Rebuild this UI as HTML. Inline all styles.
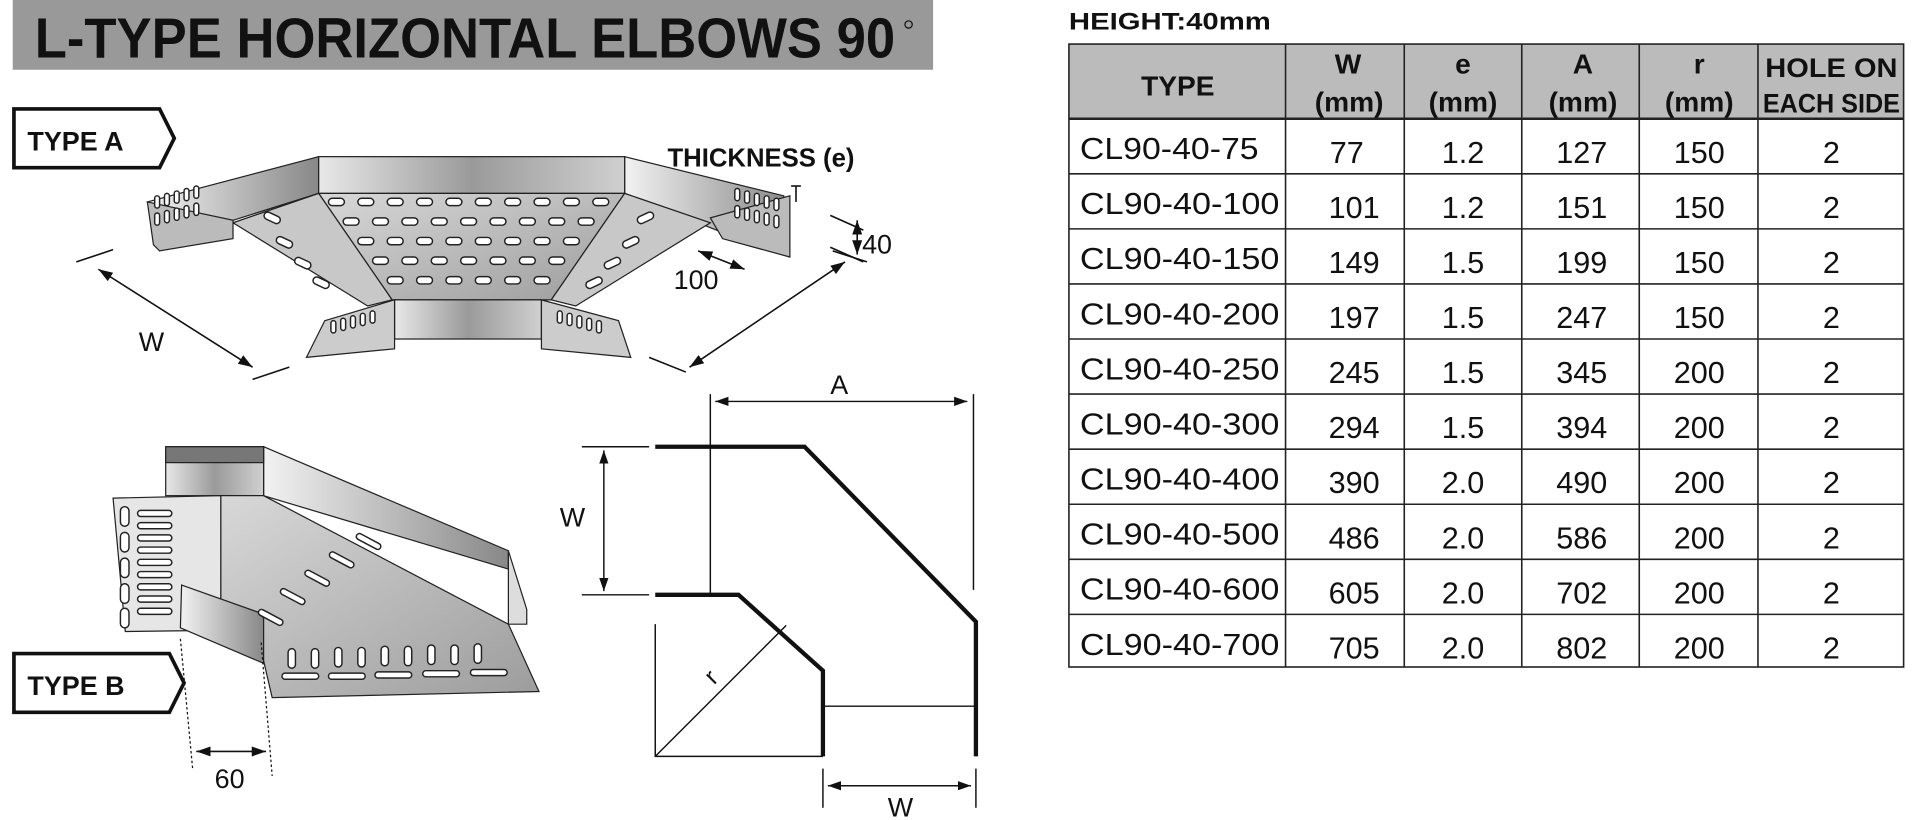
<!DOCTYPE html>
<html><head><meta charset="utf-8"><style>
html,body{margin:0;padding:0;background:#fff;width:1920px;height:820px;overflow:hidden}
svg{display:block}
text{font-family:"Liberation Sans",sans-serif;fill:#111}
</style></head><body>
<svg width="1920" height="820" viewBox="0 0 1568 670" xmlns="http://www.w3.org/2000/svg">
<defs>
<linearGradient id="m1" x1="0" x2="1" y1="0" y2="0"><stop offset="0" stop-color="#e8e8e8"/><stop offset="0.5" stop-color="#9a9a9a"/><stop offset="1" stop-color="#d0d0d0"/></linearGradient>
<linearGradient id="m2" x1="0" x2="1" y1="0" y2="0"><stop offset="0" stop-color="#f2f2f2"/><stop offset="1" stop-color="#888"/></linearGradient>
<linearGradient id="m3" x1="0" x2="1" y1="0" y2="1"><stop offset="0" stop-color="#d8d8d8"/><stop offset="1" stop-color="#9c9c9c"/></linearGradient>
<marker id="ar" viewBox="0 0 10 10" refX="10" refY="5" markerWidth="9" markerHeight="9" orient="auto-start-reverse"><path d="M0,1.5 L10,5 L0,8.5 Z" fill="#111"/></marker>
</defs>

<!-- title -->
<rect x="10" y="0" width="752" height="57" fill="#999"/>
<text x="28" y="47" font-size="46" font-weight="bold" textLength="703" lengthAdjust="spacingAndGlyphs">L-TYPE HORIZONTAL ELBOWS 90</text>
<circle cx="742" cy="20" r="3" fill="none" stroke="#111" stroke-width="1"/>

<!-- tags -->
<path d="M11,89 H130 L142,113 L130,137 H11 Z" fill="#fff" stroke="#111" stroke-width="3"/>
<text x="22" y="123" font-size="22" font-weight="bold">TYPE A</text>
<path d="M11,534 H138 L150,558 L138,582 H11 Z" fill="#fff" stroke="#111" stroke-width="3"/>
<text x="22" y="568" font-size="22" font-weight="bold">TYPE B</text>
<text x="545" y="136" font-size="21" font-weight="bold">THICKNESS (e)</text>

<!-- TYPE A drawing -->
<g stroke="#222" stroke-width="1">
<polygon points="120,165 260,128 260,158 190,180 150,195 130,205" fill="url(#m2)"/>
<polygon points="510,128 640,160 645,208 590,190 510,158" fill="url(#m2)"/>
<rect x="260" y="128" width="250" height="30" fill="url(#m1)"/>
<polygon points="260,158 510,158 450,245 320,245" fill="url(#m3)"/>
<polygon points="190,182 260,158 320,245 300,250" fill="#c8c8c8"/>
<polygon points="510,158 580,182 470,250 450,245" fill="#c8c8c8"/>
<polygon points="120,165 190,180 190,195 130,205 125,200" fill="#bbb"/>
<polygon points="580,178 645,160 645,210 590,195" fill="#bbb"/>
<rect x="322" y="245" width="120" height="32" fill="url(#m1)"/>
<polygon points="265,262 322,245 322,285 250,292" fill="#ccc"/>
<polygon points="442,245 505,262 515,292 442,285" fill="#ccc"/>
</g>
<g fill="#fff" stroke="#222" stroke-width="1.2">
<rect x="268" y="162" width="13" height="6" rx="3"/><rect x="292" y="162" width="13" height="6" rx="3"/><rect x="316" y="162" width="13" height="6" rx="3"/><rect x="340" y="162" width="13" height="6" rx="3"/><rect x="364" y="162" width="13" height="6" rx="3"/><rect x="388" y="162" width="13" height="6" rx="3"/><rect x="412" y="162" width="13" height="6" rx="3"/><rect x="436" y="162" width="13" height="6" rx="3"/><rect x="460" y="162" width="13" height="6" rx="3"/><rect x="484" y="162" width="13" height="6" rx="3"/>
<rect x="280" y="178" width="13" height="6" rx="3"/><rect x="304" y="178" width="13" height="6" rx="3"/><rect x="328" y="178" width="13" height="6" rx="3"/><rect x="352" y="178" width="13" height="6" rx="3"/><rect x="376" y="178" width="13" height="6" rx="3"/><rect x="400" y="178" width="13" height="6" rx="3"/><rect x="424" y="178" width="13" height="6" rx="3"/><rect x="448" y="178" width="13" height="6" rx="3"/><rect x="472" y="178" width="13" height="6" rx="3"/>
<rect x="292" y="194" width="13" height="6" rx="3"/><rect x="316" y="194" width="13" height="6" rx="3"/><rect x="340" y="194" width="13" height="6" rx="3"/><rect x="364" y="194" width="13" height="6" rx="3"/><rect x="388" y="194" width="13" height="6" rx="3"/><rect x="412" y="194" width="13" height="6" rx="3"/><rect x="436" y="194" width="13" height="6" rx="3"/><rect x="460" y="194" width="13" height="6" rx="3"/>
<rect x="304" y="210" width="13" height="6" rx="3"/><rect x="328" y="210" width="13" height="6" rx="3"/><rect x="352" y="210" width="13" height="6" rx="3"/><rect x="376" y="210" width="13" height="6" rx="3"/><rect x="400" y="210" width="13" height="6" rx="3"/><rect x="424" y="210" width="13" height="6" rx="3"/><rect x="448" y="210" width="13" height="6" rx="3"/>
<rect x="316" y="226" width="13" height="6" rx="3"/><rect x="340" y="226" width="13" height="6" rx="3"/><rect x="364" y="226" width="13" height="6" rx="3"/><rect x="388" y="226" width="13" height="6" rx="3"/><rect x="412" y="226" width="13" height="6" rx="3"/><rect x="436" y="226" width="13" height="6" rx="3"/>
<rect x="215" y="175" width="14" height="6" rx="3" transform="rotate(25 222 178)"/><rect x="225" y="195" width="14" height="6" rx="3" transform="rotate(25 232 198)"/><rect x="240" y="212" width="14" height="6" rx="3" transform="rotate(25 247 215)"/><rect x="255" y="228" width="14" height="6" rx="3" transform="rotate(25 262 231)"/>
<rect x="520" y="175" width="14" height="6" rx="3" transform="rotate(-25 527 178)"/><rect x="508" y="195" width="14" height="6" rx="3" transform="rotate(-25 515 198)"/><rect x="493" y="212" width="14" height="6" rx="3" transform="rotate(-25 500 215)"/><rect x="478" y="228" width="14" height="6" rx="3" transform="rotate(-25 485 231)"/>
<rect x="126" y="160" width="4" height="10" rx="2"/><rect x="134" y="158" width="4" height="10" rx="2"/><rect x="142" y="156" width="4" height="10" rx="2"/><rect x="150" y="154" width="4" height="10" rx="2"/><rect x="158" y="152" width="4" height="10" rx="2"/>
<rect x="126" y="174" width="4" height="10" rx="2"/><rect x="134" y="172" width="4" height="10" rx="2"/><rect x="142" y="170" width="4" height="10" rx="2"/><rect x="150" y="168" width="4" height="10" rx="2"/><rect x="158" y="166" width="4" height="10" rx="2"/>
<rect x="600" y="154" width="4" height="10" rx="2"/><rect x="608" y="156" width="4" height="10" rx="2"/><rect x="616" y="158" width="4" height="10" rx="2"/><rect x="624" y="160" width="4" height="10" rx="2"/><rect x="632" y="162" width="4" height="10" rx="2"/>
<rect x="600" y="168" width="4" height="10" rx="2"/><rect x="608" y="170" width="4" height="10" rx="2"/><rect x="616" y="172" width="4" height="10" rx="2"/><rect x="624" y="174" width="4" height="10" rx="2"/><rect x="632" y="176" width="4" height="10" rx="2"/>
<rect x="270" y="262" width="4" height="10" rx="2"/><rect x="278" y="260" width="4" height="10" rx="2"/><rect x="286" y="258" width="4" height="10" rx="2"/><rect x="294" y="256" width="4" height="10" rx="2"/><rect x="302" y="254" width="4" height="10" rx="2"/>
<rect x="455" y="254" width="4" height="10" rx="2"/><rect x="463" y="256" width="4" height="10" rx="2"/><rect x="471" y="258" width="4" height="10" rx="2"/><rect x="479" y="260" width="4" height="10" rx="2"/><rect x="487" y="262" width="4" height="10" rx="2"/>
</g>
<!-- type A dims -->
<g stroke="#111" stroke-width="1.3" fill="none">
<line x1="80" y1="220" x2="206" y2="300" marker-start="url(#ar)" marker-end="url(#ar)"/>
<line x1="62" y1="214" x2="92" y2="204"/><line x1="206" y1="310" x2="236" y2="300"/>
<line x1="563" y1="300" x2="690" y2="214" marker-start="url(#ar)" marker-end="url(#ar)"/>
<line x1="530" y1="292" x2="560" y2="304"/><line x1="680" y1="205" x2="708" y2="214"/>
<line x1="570" y1="205" x2="608" y2="220" marker-start="url(#ar)" marker-end="url(#ar)"/>
<line x1="700" y1="180" x2="700" y2="208" marker-start="url(#ar)" marker-end="url(#ar)"/>
<line x1="678" y1="176" x2="705" y2="188"/><line x1="678" y1="202" x2="705" y2="214"/>
<line x1="650" y1="152" x2="650" y2="165"/><line x1="646" y1="152" x2="654" y2="152"/>
</g>
<text x="113" y="287" font-size="22">W</text>
<text x="550" y="236" font-size="22">100</text>
<text x="704" y="207" font-size="22">40</text>

<!-- TYPE B drawing -->
<g stroke="#222" stroke-width="1">
<polygon points="215,365 415,450 415,465 215,405" fill="url(#m2)"/>
<polygon points="415,450 430,498 430,510 415,510" fill="#ddd"/>
<rect x="135" y="365" width="80" height="40" fill="url(#m1)"/>
<rect x="135" y="365" width="80" height="13" fill="#777"/>
<polygon points="180,405 215,405 415,510 440,565 222,570 215,540 180,515" fill="url(#m3)"/>
<polygon points="92,407 180,405 180,515 102,516" fill="#e6e6e6"/>
<polygon points="148,478 210,500 215,505 215,542 147,513" fill="url(#m2)"/>
</g>
<g fill="#fff" stroke="#222" stroke-width="1.2">
<rect x="98" y="414" width="7" height="16" rx="3.5"/><rect x="98" y="435" width="7" height="16" rx="3.5"/><rect x="98" y="456" width="7" height="16" rx="3.5"/><rect x="98" y="477" width="7" height="16" rx="3.5"/><rect x="98" y="497" width="7" height="16" rx="3.5"/>
<rect x="112" y="417" width="28" height="5" rx="2.5"/><rect x="112" y="427" width="28" height="5" rx="2.5"/><rect x="112" y="437" width="28" height="5" rx="2.5"/><rect x="112" y="447" width="28" height="5" rx="2.5"/><rect x="112" y="457" width="28" height="5" rx="2.5"/><rect x="112" y="467" width="28" height="5" rx="2.5"/><rect x="112" y="477" width="28" height="5" rx="2.5"/><rect x="112" y="487" width="28" height="5" rx="2.5"/><rect x="112" y="497" width="28" height="5" rx="2.5"/>
<rect x="230" y="550" width="30" height="5" rx="2.5"/><rect x="268" y="550" width="30" height="5" rx="2.5"/><rect x="306" y="549" width="30" height="5" rx="2.5"/><rect x="345" y="548" width="30" height="5" rx="2.5"/><rect x="384" y="547" width="30" height="5" rx="2.5"/>
<rect x="235" y="530" width="6" height="16" rx="3"/><rect x="254" y="530" width="6" height="16" rx="3"/><rect x="273" y="529" width="6" height="16" rx="3"/><rect x="292" y="529" width="6" height="16" rx="3"/><rect x="311" y="528" width="6" height="16" rx="3"/><rect x="330" y="528" width="6" height="16" rx="3"/><rect x="349" y="527" width="6" height="16" rx="3"/><rect x="368" y="527" width="6" height="16" rx="3"/><rect x="387" y="526" width="6" height="16" rx="3"/>
<rect x="210" y="502" width="22" height="5" rx="2.5" transform="rotate(28 221 504)"/><rect x="228" y="485" width="22" height="5" rx="2.5" transform="rotate(28 239 487)"/><rect x="248" y="470" width="22" height="5" rx="2.5" transform="rotate(28 259 472)"/><rect x="268" y="455" width="22" height="5" rx="2.5" transform="rotate(28 279 457)"/><rect x="290" y="440" width="22" height="5" rx="2.5" transform="rotate(28 301 442)"/>
</g>
<g stroke="#111" stroke-width="1" fill="none">
<line x1="147" y1="522" x2="157" y2="628" stroke-dasharray="2,2"/>
<line x1="213" y1="525" x2="222" y2="634" stroke-dasharray="2,2"/>
<line x1="160" y1="614" x2="217" y2="614" stroke-width="1.3" marker-start="url(#ar)" marker-end="url(#ar)"/>
</g>
<text x="175" y="644" font-size="22">60</text>

<!-- schematic -->
<g stroke="#111" fill="none">
<polyline points="535,365 657,365 797,508 797,618" stroke-width="3.5"/>
<polyline points="535,486 603,486 672,548 672,618" stroke-width="3.5"/>
<line x1="580" y1="322" x2="580" y2="486" stroke-width="1.2"/>
<line x1="795" y1="322" x2="795" y2="482" stroke-width="1.2"/>
<line x1="584" y1="328" x2="790" y2="328" stroke-width="1.2" marker-start="url(#ar)" marker-end="url(#ar)"/>
<line x1="475" y1="365" x2="530" y2="365" stroke-width="1.2"/>
<line x1="475" y1="486" x2="530" y2="486" stroke-width="1.2"/>
<line x1="493" y1="368" x2="493" y2="483" stroke-width="1.2" marker-start="url(#ar)" marker-end="url(#ar)"/>
<polyline points="535,510 535,618 672,618" stroke-width="1.2"/>
<line x1="535" y1="618" x2="642" y2="511" stroke-width="1.2"/>
<line x1="672" y1="577" x2="797" y2="577" stroke-width="1.2"/>
<line x1="672" y1="628" x2="672" y2="660" stroke-width="1.2"/>
<line x1="797" y1="628" x2="797" y2="660" stroke-width="1.2"/>
<line x1="676" y1="642" x2="793" y2="642" stroke-width="1.2" marker-start="url(#ar)" marker-end="url(#ar)"/>
</g>
<text x="678" y="322" font-size="22">A</text>
<text x="457" y="430" font-size="22">W</text>
<text x="725" y="667" font-size="22">W</text>
<text x="578" y="558" font-size="20" transform="rotate(-45 583 553)">r</text>

<!-- table -->
<text x="873" y="24" font-size="20" font-weight="bold" textLength="165" lengthAdjust="spacingAndGlyphs">HEIGHT:40mm</text>
<rect x="873" y="36" width="682" height="61" fill="#bbb"/>
<g stroke="#222" stroke-width="1.3" fill="none">
<rect x="873" y="36" width="682" height="509"/>
<line x1="1050" y1="36" x2="1050" y2="545"/><line x1="1147" y1="36" x2="1147" y2="545"/><line x1="1243" y1="36" x2="1243" y2="545"/><line x1="1339" y1="36" x2="1339" y2="545"/><line x1="1436" y1="36" x2="1436" y2="545"/>
<line x1="873" y1="97" x2="1555" y2="97" stroke-width="2"/>
<line x1="873" y1="142" x2="1555" y2="142"/><line x1="873" y1="187" x2="1555" y2="187"/><line x1="873" y1="232" x2="1555" y2="232"/><line x1="873" y1="277" x2="1555" y2="277"/><line x1="873" y1="322" x2="1555" y2="322"/><line x1="873" y1="367" x2="1555" y2="367"/><line x1="873" y1="412" x2="1555" y2="412"/><line x1="873" y1="457" x2="1555" y2="457"/><line x1="873" y1="502" x2="1555" y2="502"/>
</g>
<g font-size="23" font-weight="bold" text-anchor="middle">
<text x="962" y="78">TYPE</text>
<text x="1101" y="60">W</text><text x="1102" y="91">(mm)</text>
<text x="1195" y="60">e</text><text x="1195" y="91">(mm)</text>
<text x="1293" y="60">A</text><text x="1293" y="91">(mm)</text>
<text x="1388" y="60">r</text><text x="1388" y="91">(mm)</text>
<text x="1496" y="63" font-size="22" textLength="108" lengthAdjust="spacingAndGlyphs">HOLE ON</text>
<text x="1496" y="92" font-size="22" textLength="112" lengthAdjust="spacingAndGlyphs">EACH SIDE</text>
</g>
<g font-size="25">
<g text-anchor="start">
<text x="882" y="130" textLength="146" lengthAdjust="spacingAndGlyphs">CL90-40-75</text><text x="882" y="175" textLength="163" lengthAdjust="spacingAndGlyphs">CL90-40-100</text><text x="882" y="220" textLength="163" lengthAdjust="spacingAndGlyphs">CL90-40-150</text><text x="882" y="265" textLength="163" lengthAdjust="spacingAndGlyphs">CL90-40-200</text><text x="882" y="310" textLength="163" lengthAdjust="spacingAndGlyphs">CL90-40-250</text><text x="882" y="355" textLength="163" lengthAdjust="spacingAndGlyphs">CL90-40-300</text><text x="882" y="400" textLength="163" lengthAdjust="spacingAndGlyphs">CL90-40-400</text><text x="882" y="445" textLength="163" lengthAdjust="spacingAndGlyphs">CL90-40-500</text><text x="882" y="490" textLength="163" lengthAdjust="spacingAndGlyphs">CL90-40-600</text><text x="882" y="535" textLength="163" lengthAdjust="spacingAndGlyphs">CL90-40-700</text>
</g>
<g text-anchor="middle">
<text x="1100" y="133">77</text><text x="1195" y="133">1.2</text><text x="1292" y="133">127</text><text x="1388" y="133">150</text><text x="1496" y="133">2</text>
<text x="1106" y="178">101</text><text x="1195" y="178">1.2</text><text x="1292" y="178">151</text><text x="1388" y="178">150</text><text x="1496" y="178">2</text>
<text x="1106" y="223">149</text><text x="1195" y="223">1.5</text><text x="1292" y="223">199</text><text x="1388" y="223">150</text><text x="1496" y="223">2</text>
<text x="1106" y="268">197</text><text x="1195" y="268">1.5</text><text x="1292" y="268">247</text><text x="1388" y="268">150</text><text x="1496" y="268">2</text>
<text x="1106" y="313">245</text><text x="1195" y="313">1.5</text><text x="1292" y="313">345</text><text x="1388" y="313">200</text><text x="1496" y="313">2</text>
<text x="1106" y="358">294</text><text x="1195" y="358">1.5</text><text x="1292" y="358">394</text><text x="1388" y="358">200</text><text x="1496" y="358">2</text>
<text x="1106" y="403">390</text><text x="1195" y="403">2.0</text><text x="1292" y="403">490</text><text x="1388" y="403">200</text><text x="1496" y="403">2</text>
<text x="1106" y="448">486</text><text x="1195" y="448">2.0</text><text x="1292" y="448">586</text><text x="1388" y="448">200</text><text x="1496" y="448">2</text>
<text x="1106" y="493">605</text><text x="1195" y="493">2.0</text><text x="1292" y="493">702</text><text x="1388" y="493">200</text><text x="1496" y="493">2</text>
<text x="1106" y="538">705</text><text x="1195" y="538">2.0</text><text x="1292" y="538">802</text><text x="1388" y="538">200</text><text x="1496" y="538">2</text>
</g>
</g>
</svg>
</body></html>
